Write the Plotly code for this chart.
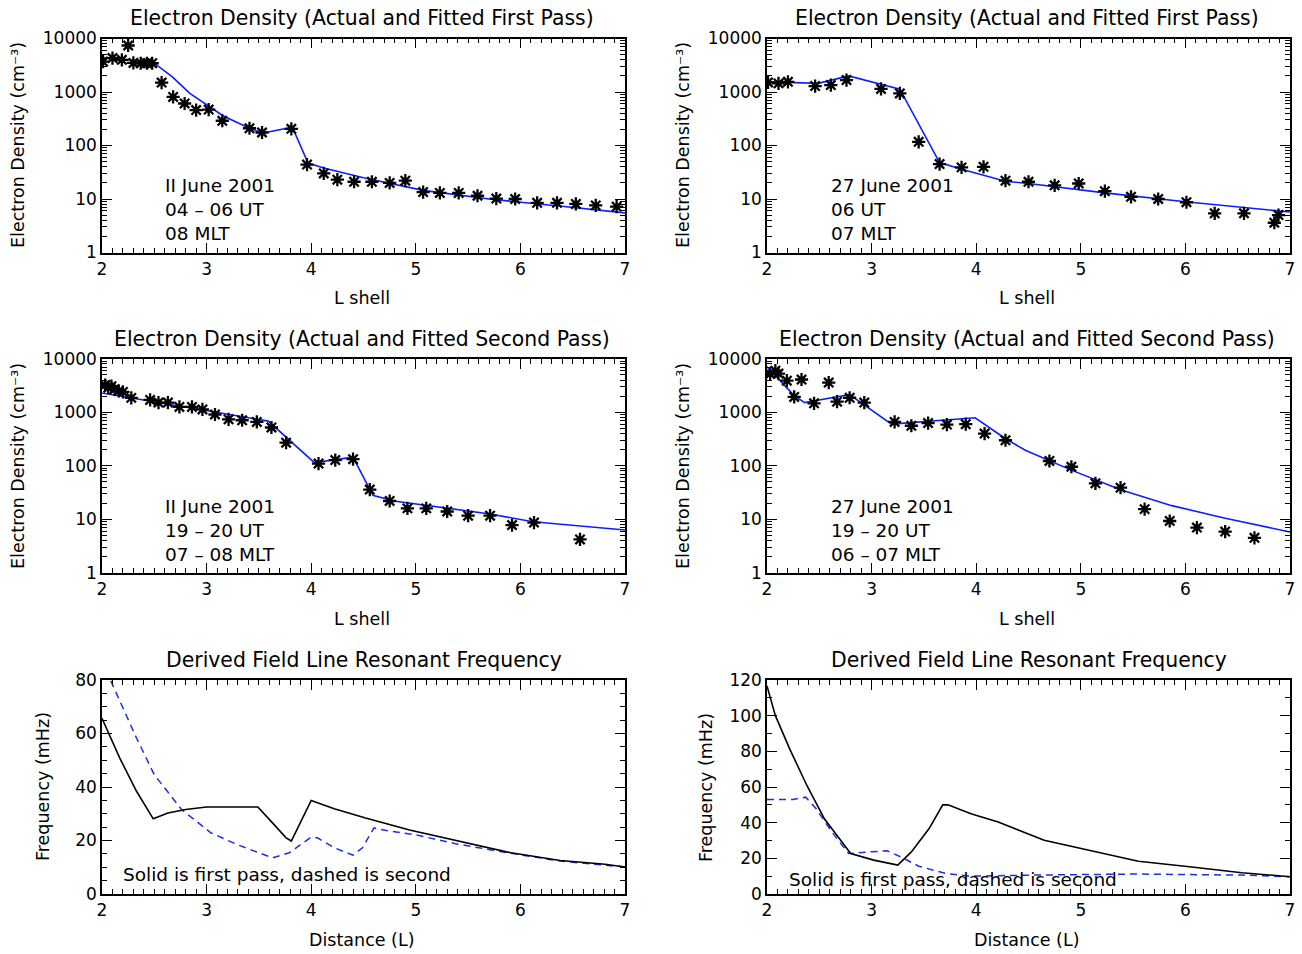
import plotly.graph_objects as go

# ---------------- data ----------------
# Panel 1: 11 June 2001, first pass (observed density, fitted line)
obs1_jun11_L = [2.01, 2.10, 2.19, 2.25, 2.30, 2.37, 2.43, 2.48, 2.57, 2.68, 2.79, 2.90, 3.02, 3.15,
                3.41, 3.53, 3.81, 3.96, 4.12, 4.25, 4.41, 4.58, 4.75, 4.90, 5.07, 5.23, 5.41, 5.59,
                5.77, 5.95, 6.16, 6.35, 6.53, 6.72, 6.92]
obs1_jun11_n = [3700, 4300, 4000, 7400, 3500, 3450, 3450, 3450, 1500, 810, 610, 460, 470, 290,
                210, 175, 205, 44, 30, 23, 21, 21, 20, 22, 13.5, 13, 13, 11.5,
                10.2, 10, 8.5, 8.5, 8.1, 7.6, 7.2]
fit1_jun11_L = [2.0, 2.25, 2.5, 2.67, 2.84, 3.02, 3.16, 3.38, 3.53, 3.82, 3.97, 4.12, 4.5, 5.07, 5.74, 6.37, 7.0]
fit1_jun11_n = [4400, 4000, 3450, 1940, 945, 535, 357, 224, 170, 220, 47, 38, 25, 14.5, 9.8, 7.4, 5.5]

# Panel 2: 27 June 2001, first pass
obs1_jun27_L = [2.01, 2.11, 2.20, 2.46, 2.61, 2.76, 3.09, 3.27, 3.45, 3.65, 3.86, 4.07, 4.28, 4.50,
                4.75, 4.98, 5.23, 5.48, 5.74, 6.01, 6.28, 6.56, 6.85, 6.89]
obs1_jun27_n = [1510, 1450, 1550, 1290, 1350, 1670, 1140, 940, 117, 45, 39, 40, 22, 21,
                18, 19.5, 14, 11, 10, 8.7, 5.4, 5.4, 3.6, 5.0]
fit1_jun27_L = [2.0, 2.49, 2.78, 3.27, 3.65, 3.86, 4.28, 4.5, 5.23, 6.0, 7.0]
fit1_jun27_n = [1550, 1450, 2000, 1130, 48, 36, 21.5, 19.5, 13, 8.9, 5.7]

# Panel 3: 11 June 2001, second pass
obs2_jun11_L = [2.03, 2.06, 2.09, 2.12, 2.16, 2.20, 2.28, 2.46, 2.54, 2.63, 2.74, 2.86, 2.96, 3.08,
                3.21, 3.34, 3.48, 3.62, 3.76, 4.07, 4.23, 4.40, 4.56, 4.75, 4.92, 5.10, 5.30, 5.50,
                5.71, 5.92, 6.13, 6.57]
obs2_jun11_n = [3240, 2900, 3080, 2700, 2500, 2400, 1860, 1700, 1520, 1520, 1260, 1260, 1130, 910,
                740, 710, 660, 520, 270, 110, 128, 133, 36, 22, 16, 16, 14, 11.7,
                11.7, 7.8, 8.7, 4.2]
fit2_jun11_L = [2.0, 3.59, 4.03, 4.40, 4.59, 4.79, 5.71, 6.12, 7.0]
fit2_jun11_n = [2300, 684, 115, 145, 28, 22, 12.6, 9, 6.3]

# Panel 4: 27 June 2001, second pass
obs2_jun27_L = [2.03, 2.08, 2.11, 2.19, 2.26, 2.33, 2.45, 2.59, 2.67, 2.79, 2.93, 3.22, 3.38, 3.54,
                3.72, 3.90, 4.08, 4.28, 4.70, 4.91, 5.14, 5.38, 5.61, 5.85, 6.11, 6.38, 6.66]
obs2_jun27_n = [5200, 6000, 5300, 3900, 1940, 4100, 1470, 3600, 1580, 1870, 1520, 660, 560, 630,
                590, 600, 400, 300, 123, 96, 47, 39, 15.5, 9.3, 7.0, 5.9, 4.5]
fit2_jun27_L = [2.0, 2.26, 2.36, 2.79, 3.19, 3.99, 4.28, 4.47, 4.91, 5.38, 5.87, 6.38, 7.0]
fit2_jun27_n = [7100, 2050, 1520, 2150, 600, 790, 320, 195, 83, 35.5, 18, 10.5, 5.8]

# Panel 5: derived frequency, 11 June (solid = first pass, dashed = second pass)
freq_jun11_first_L = [2.0, 2.17, 2.33, 2.49, 2.63, 2.80, 3.0, 3.49, 3.63, 3.76, 3.81, 4.0, 4.22,
                      4.52, 4.94, 5.22, 5.55, 5.91, 6.38, 6.81, 7.0]
freq_jun11_first_f = [65.7, 50.8, 38.4, 28.1, 30.3, 31.6, 32.5, 32.5, 26.6, 21.0, 19.8, 35.0, 31.9,
                      28.4, 23.9, 21.4, 18.5, 15.4, 12.5, 11.1, 10.1]
freq_jun11_second_L = [2.0, 2.08, 2.23, 2.33, 2.50, 2.76, 3.04, 3.29, 3.63, 3.79, 3.99, 4.06, 4.22,
                       4.40, 4.49, 4.60, 4.72, 4.99, 5.38, 5.88, 6.38, 7.0]
freq_jun11_second_f = [88, 80, 67, 58.3, 44.6, 31.6, 22.9, 18.5, 13.5, 15.4, 21.0, 21.0, 17.3,
                       14.5, 17.3, 24.7, 23.7, 22.2, 18.8, 15.4, 12.3, 10.1]

# Panel 6: derived frequency, 27 June
freq_jun27_first_L = [2.0, 2.08, 2.22, 2.38, 2.55, 2.80, 3.02, 3.25, 3.38, 3.55, 3.68, 3.73, 3.95,
                      4.21, 4.65, 5.21, 5.55, 6.04, 6.54, 7.0]
freq_jun27_first_f = [116.7, 100, 81, 61, 42, 22.7, 19, 16.2, 23.6, 36.7, 50, 50, 45,
                      40.4, 30.1, 22.7, 18.4, 15.3, 11.9, 9.7]
freq_jun27_second_L = [2.0, 2.25, 2.37, 2.47, 2.62, 2.78, 2.98, 3.15, 3.28, 3.45, 3.71, 3.95,
                       4.55, 5.55, 6.54, 7.0]
freq_jun27_second_f = [53, 53, 54.3, 47.8, 34.8, 22.7, 23.6, 24.2, 20.8, 15.6, 11.5, 10,
                       10.6, 11.2, 10.6, 9.7]

density_ticks = [1, 10, 100, 1000, 10000]
density_ticktext = ["1", "10", "100", "1000", "10000"]

# ---------------- layout helpers ----------------
W, H = 1302, 954
FONT = "DejaVu Sans"
FS_TICK = 17
FS_TITLE = 20.4
FS_AXTITLE = 17.5
FS_NOTE = 18.5

col_px = [(102, 625), (767, 1290)]
row_px = [(38.5, 252.5), (358.8, 572.8), (680, 894)]


def px(x):
    return x / W


def py(y):
    return 1 - y / H


def xdom(c):
    a, b = col_px[c]
    return [px(a), px(b)]


def ydom(r):
    t, b = row_px[r]
    return [py(b), py(t)]


fig = go.Figure()

panels = [
    (0, 0, "dens"), (0, 1, "dens"),
    (1, 0, "dens"), (1, 1, "dens"),
    (2, 0, "freq"), (2, 1, "freq"),
]

axis_common = dict(
    showline=True, linecolor="black", linewidth=1.5, mirror="allticks",
    ticks="inside", ticklen=10, tickwidth=1.2, tickcolor="black",
    showgrid=False, zeroline=False, automargin=False,
    tickfont=dict(family=FONT, size=FS_TICK, color="black"),
)

layout = {}
for i, (r, c, kind) in enumerate(panels):
    n = i + 1
    xa = "xaxis" if n == 1 else f"xaxis{n}"
    ya = "yaxis" if n == 1 else f"yaxis{n}"
    layout[xa] = dict(
        axis_common, domain=xdom(c), anchor=f"y{n}" if n > 1 else "y",
        range=[2, 7], dtick=1, tick0=2,
        minor=dict(ticks="inside", ticklen=5, dtick=0.1, tickcolor="black", tickwidth=1),
    )
    if kind == "dens":
        layout[ya] = dict(
            axis_common, domain=ydom(r), anchor=f"x{n}" if n > 1 else "x",
            type="log", range=[0, 4], tickvals=density_ticks, ticktext=density_ticktext,
            minor=dict(ticks="inside", ticklen=5, tickcolor="black", tickwidth=1,
                       tickvals=[m * 10 ** d for d in range(4) for m in range(2, 10)]),
        )
    else:
        top = 80 if c == 0 else 120
        layout[ya] = dict(
            axis_common, domain=ydom(r), anchor=f"x{n}" if n > 1 else "x",
            range=[0, top], dtick=20, tick0=0,
            minor=dict(ticks="inside", ticklen=5, dtick=5 if c == 0 else 10,
                       tickcolor="black", tickwidth=1),
        )

fig.update_layout(**layout)


def ax(n):
    return ("x" if n == 1 else f"x{n}"), ("y" if n == 1 else f"y{n}")


def add_density(n, obsL, obsN, fitL, fitN):
    xr, yr = ax(n)
    fig.add_trace(go.Scatter(x=fitL, y=fitN, mode="lines", xaxis=xr, yaxis=yr,
                             line=dict(color="#0a1fff", width=1.6), showlegend=False))
    fig.add_trace(go.Scatter(x=obsL, y=obsN, mode="markers", xaxis=xr, yaxis=yr,
                             marker=dict(symbol="asterisk-open", size=11, color="black",
                                         line=dict(color="black", width=2.3)),
                             showlegend=False))


add_density(1, obs1_jun11_L, obs1_jun11_n, fit1_jun11_L, fit1_jun11_n)
add_density(2, obs1_jun27_L, obs1_jun27_n, fit1_jun27_L, fit1_jun27_n)
add_density(3, obs2_jun11_L, obs2_jun11_n, fit2_jun11_L, fit2_jun11_n)
add_density(4, obs2_jun27_L, obs2_jun27_n, fit2_jun27_L, fit2_jun27_n)


def add_freq(n, L1, f1, L2, f2):
    xr, yr = ax(n)
    fig.add_trace(go.Scatter(x=L2, y=f2, mode="lines", xaxis=xr, yaxis=yr,
                             line=dict(color="#1a2fe6", width=1.5, dash="7px,5px"), showlegend=False))
    fig.add_trace(go.Scatter(x=L1, y=f1, mode="lines", xaxis=xr, yaxis=yr,
                             line=dict(color="black", width=1.6), showlegend=False))


add_freq(5, freq_jun11_first_L, freq_jun11_first_f, freq_jun11_second_L, freq_jun11_second_f)
add_freq(6, freq_jun27_first_L, freq_jun27_first_f, freq_jun27_second_L, freq_jun27_second_f)

annots = []


def txt(x, y, s, size, xanchor="center", yanchor="middle", angle=0):
    annots.append(dict(x=px(x), y=py(y), xref="paper", yref="paper", text=s,
                       showarrow=False, xanchor=xanchor, yanchor=yanchor, textangle=angle,
                       align="left" if xanchor == "left" else "center",
                       font=dict(family=FONT, size=size, color="black")))


# titles
txt(362, 18, "Electron Density (Actual and Fitted First Pass)", FS_TITLE)
txt(1027, 18, "Electron Density (Actual and Fitted First Pass)", FS_TITLE)
txt(362, 339, "Electron Density (Actual and Fitted Second Pass)", FS_TITLE)
txt(1027, 339, "Electron Density (Actual and Fitted Second Pass)", FS_TITLE)
txt(364, 660, "Derived Field Line Resonant Frequency", FS_TITLE)
txt(1029, 660, "Derived Field Line Resonant Frequency", FS_TITLE)

# x axis titles
for xc in (362, 1027):
    txt(xc, 298, "L shell", FS_AXTITLE)
    txt(xc, 619, "L shell", FS_AXTITLE)
    txt(xc, 940, "Distance (L)", FS_AXTITLE)

# y axis titles
for yc in (145, 466):
    txt(18, yc, "Electron Density (cm\u207b\u00b3)", FS_AXTITLE, angle=-90)
    txt(683, yc, "Electron Density (cm\u207b\u00b3)", FS_AXTITLE, angle=-90)
txt(43, 787, "Frequency (mHz)", FS_AXTITLE, angle=-90)
txt(706, 787, "Frequency (mHz)", FS_AXTITLE, angle=-90)

# in-panel labels (one multi-line block each)
for (x0, lines, yc) in [
    (163, ["II June 2001", "04 \u2013 06 UT", "08 MLT"], 210),
    (829, ["27 June 2001", "06 UT", "07 MLT"], 210),
    (163, ["II June 2001", "19 \u2013 20 UT", "07 \u2013 08 MLT"], 530),
    (829, ["27 June 2001", "19 \u2013 20 UT", "06 \u2013 07 MLT"], 530),
]:
    txt(x0, yc, "<br>".join(lines), FS_NOTE, xanchor="left")

txt(121, 874, "Solid is first pass, dashed is second", FS_NOTE, xanchor="left")
txt(787, 879, "Solid is first pass, dashed is second", FS_NOTE, xanchor="left")

fig.update_layout(
    annotations=annots,
    width=W, height=H,
    margin=dict(l=0, r=0, t=0, b=0, pad=0, autoexpand=False),
    paper_bgcolor="white", plot_bgcolor="white",
    showlegend=False,
    font=dict(family=FONT, size=FS_TICK, color="black"),
)

fig.write_html("out.html")
